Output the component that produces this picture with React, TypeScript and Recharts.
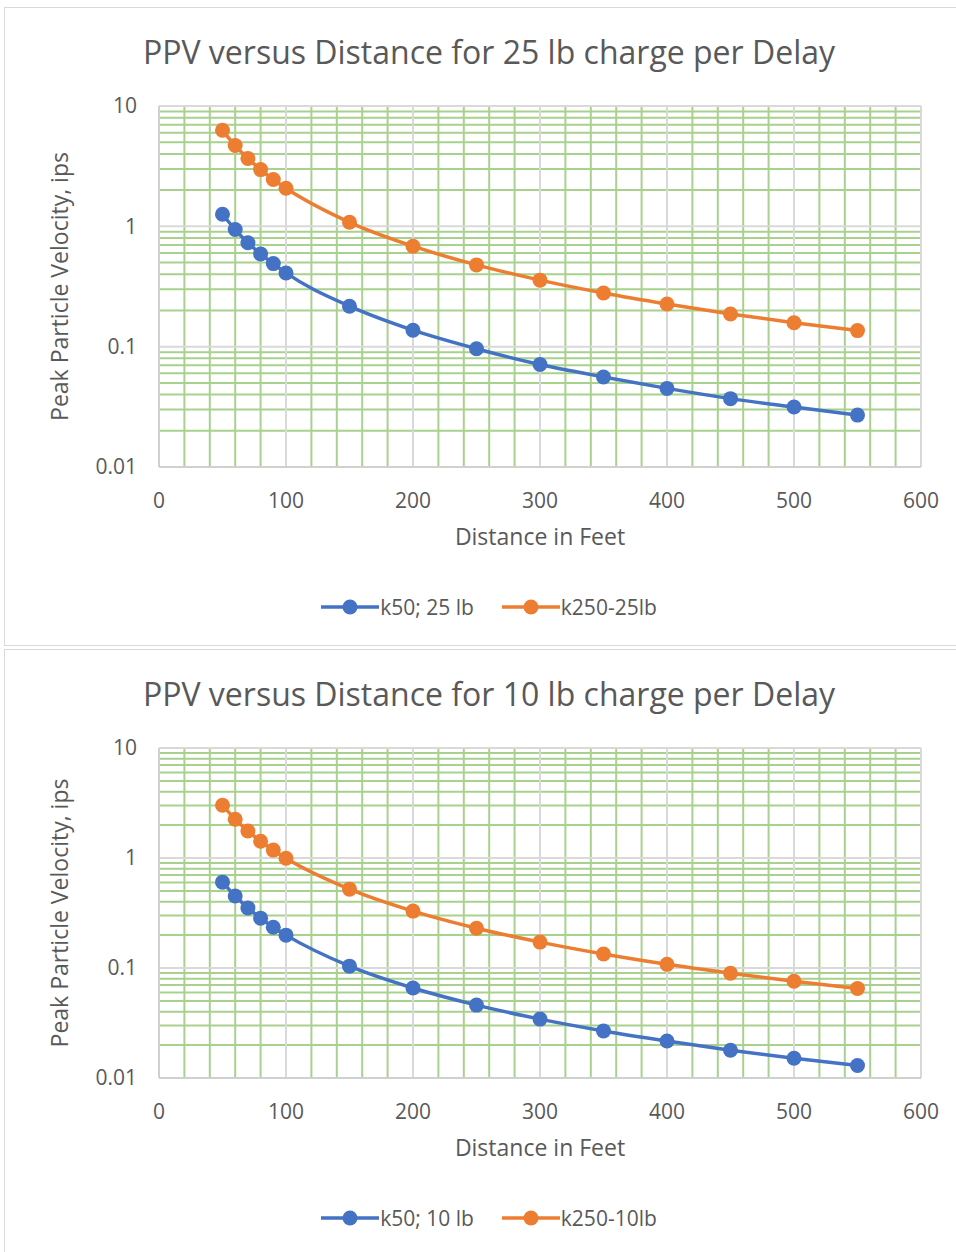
import React from "react"
import { LineChart, Line, XAxis, YAxis, CartesianGrid, Legend, ReferenceLine } from "recharts"

// distances in feet
const distance = [50, 60, 70, 80, 90, 100, 150, 200, 250, 300, 350, 400, 450, 500, 550]

// PPV (ips)
const k50_25lb = [1.26, 0.94, 0.73, 0.59, 0.49, 0.41, 0.217, 0.137, 0.096, 0.071, 0.056, 0.045, 0.037, 0.0315, 0.027]
const k250_25lb = [6.28, 4.69, 3.67, 2.96, 2.45, 2.07, 1.08, 0.684, 0.478, 0.357, 0.279, 0.226, 0.187, 0.158, 0.136]
const k50_10lb = [0.603, 0.451, 0.352, 0.284, 0.235, 0.199, 0.104, 0.0658, 0.046, 0.0343, 0.0268, 0.0217, 0.0179, 0.0151, 0.013]
const k250_10lb = [3.02, 2.25, 1.76, 1.42, 1.18, 0.995, 0.521, 0.329, 0.23, 0.172, 0.134, 0.108, 0.0897, 0.0757, 0.0651]

const xTicks = [0, 100, 200, 300, 400, 500, 600]
const xMinor = [20, 40, 60, 80, 120, 140, 160, 180, 220, 240, 260, 280, 320, 340, 360, 380, 420, 440, 460, 480, 520, 540, 560, 580]
const yTicks = [0.01, 0.1, 1, 10]
const yMinor = [
  0.02, 0.03, 0.04, 0.05, 0.06, 0.07, 0.08, 0.09,
  0.2, 0.3, 0.4, 0.5, 0.6, 0.7, 0.8, 0.9,
  2, 3, 4, 5, 6, 7, 8, 9,
]

const BLUE = "#4472C4"
const ORANGE = "#ED7D31"
const TEXT = "#595959"
const GREEN = "#A9D18E"

// keep Excel's series order (recharts sorts legend items by name otherwise)
const LegendContent = ({ payload }: any) => {
  const items = [...(payload || [])].sort((a: any, b: any) => (a.dataKey === "low" ? -1 : 1) - (b.dataKey === "low" ? -1 : 1))
  return (
    <div style={{ display: "flex", justifyContent: "center", alignItems: "center", height: 26, gap: 28 }}>
      {items.map((p: any) => (
        <div key={p.value} style={{ display: "flex", alignItems: "center" }}>
          <svg width={58} height={16}>
            <line x1={0} y1={8} x2={58} y2={8} stroke={p.color} strokeWidth={3.5} />
            <circle cx={29} cy={8} r={7.5} fill={p.color} />
          </svg>
          <span style={{ color: TEXT, fontSize: 21, marginLeft: 1 }}>{p.value}</span>
        </div>
      ))}
    </div>
  )
}

function PpvChart({ title, low, high, lowName, highName, height }: {
  title: string
  low: number[]
  high: number[]
  lowName: string
  highName: string
  height: number
}) {
  const data = distance.map((d, i) => ({ d, low: low[i], high: high[i] }))
  return (
    <div style={{ position: "relative", width: 950, height }}>
      <div style={{ position: "absolute", left: 0, top: 22, width: 968, textAlign: "center", fontSize: 32, color: TEXT }}>
        {title}
      </div>
      <LineChart width={950} height={height} data={data} margin={{ top: 98, right: 34, left: 0, bottom: 0 }}>
        {xMinor.map((v) => (
          <ReferenceLine key={"x" + v} x={v} stroke={GREEN} strokeWidth={2} />
        ))}
        {yMinor.map((v) => (
          <ReferenceLine key={"y" + v} y={v} stroke={GREEN} strokeWidth={2} />
        ))}
        {xTicks.map((v) => (
          <ReferenceLine key={"X" + v} x={v} stroke="#D9D9D9" strokeWidth={2} />
        ))}
        {yTicks.map((v) => (
          <ReferenceLine key={"Y" + v} y={v} stroke="#D9D9D9" strokeWidth={2} />
        ))}
        <XAxis
          dataKey="d"
          type="number"
          domain={[0, 600]}
          ticks={xTicks}
          height={178}
          tickSize={0}
          tickMargin={26}
          axisLine={{ stroke: "#D0D0D0", strokeWidth: 2 }}
          tick={{ fill: TEXT, fontSize: 21 }}
          label={{ value: "Distance in Feet", position: "insideTop", offset: 62, fill: TEXT, fontSize: 23 }}
        />
        <YAxis
          scale="log"
          domain={[0.01, 10]}
          allowDataOverflow
          ticks={yTicks}
          width={154}
          tickSize={0}
          tickMargin={22}
          axisLine={{ stroke: "#D0D0D0", strokeWidth: 2 }}
          tick={{ fill: TEXT, fontSize: 21 }}
          label={{
            value: "Peak Particle Velocity, ips",
            angle: -90,
            position: "insideLeft",
            offset: 55,
            fill: TEXT,
            fontSize: 23,
            style: { textAnchor: "middle" },
          }}
        />
        <Legend
          layout="horizontal"
          verticalAlign="middle"
          content={<LegendContent />}
          wrapperStyle={{ top: height - 51, left: 0, width: 968, height: 26 }}
        />
        <Line
          type="monotone"
          dataKey="low"
          name={lowName}
          stroke={BLUE}
          strokeWidth={3.5}
          dot={{ r: 7.5, fill: BLUE, stroke: "none" }}
          isAnimationActive={false}
        />
        <Line
          type="monotone"
          dataKey="high"
          name={highName}
          stroke={ORANGE}
          strokeWidth={3.5}
          dot={{ r: 7.5, fill: ORANGE, stroke: "none" }}
          isAnimationActive={false}
        />
      </LineChart>
    </div>
  )
}

export default function App() {
  const box: React.CSSProperties = {
    position: "absolute",
    left: 4,
    width: 962,
    border: "1px solid #D9D9D9",
    background: "#fff",
  }
  return (
    <div style={{ position: "absolute", left: 0, top: 0, width: 956, height: 1252, overflow: "hidden", background: "#fff", fontFamily: "'Open Sans', sans-serif" }}>
      <div style={{ ...box, top: 7, height: 637 }}>
        <PpvChart
          title="PPV versus Distance for 25 lb charge per Delay"
          low={k50_25lb}
          high={k250_25lb}
          lowName="k50; 25 lb"
          highName="k250-25lb"
          height={637}
        />
      </div>
      <div style={{ ...box, top: 649, height: 606 }}>
        <PpvChart
          title="PPV versus Distance for 10 lb charge per Delay"
          low={k50_10lb}
          high={k250_10lb}
          lowName="k50; 10 lb"
          highName="k250-10lb"
          height={606}
        />
      </div>
    </div>
  )
}
